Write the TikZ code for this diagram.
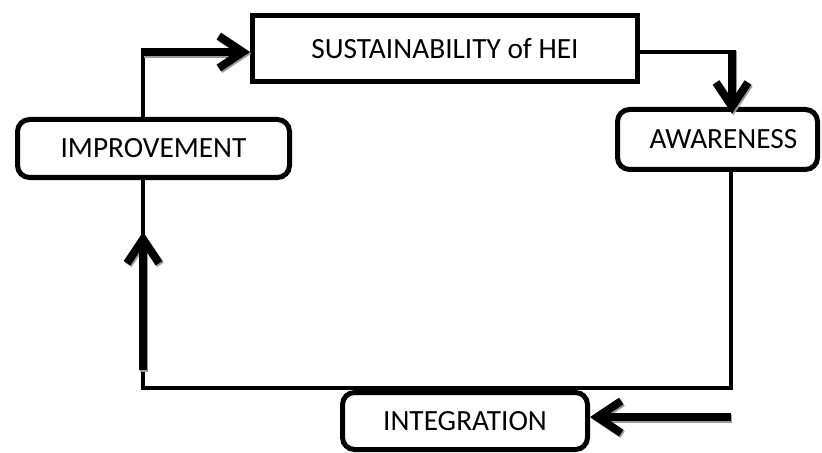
\documentclass[tikz,border=0pt]{standalone}
\usepackage{fontspec}
\setmainfont{Carlito}
\usetikzlibrary{arrows.meta}
\begin{document}
\begin{tikzpicture}[x=0.75pt,y=-0.75pt,
  box/.style={draw=black,line width=3.75pt,fill=white,inner sep=0pt,font=\fontsize{22}{25}\selectfont},
  rbox/.style={box,rounded corners=9pt},
  thinline/.style={draw=black,line width=3.2pt},
  thickarrow/.style={draw=black,line width=6pt,-{Straight Barb[length=18pt,width=24pt]}},
  shadowarrow/.style={draw=black!40,line width=6pt,-{Straight Barb[length=18pt,width=24pt]}}
]
\useasboundingbox (0,0) rectangle (822,453);
% nodes
\node[box,minimum width=288.75pt,minimum height=49.5pt] (sus) at (445,48.5) {SUSTAINABILITY of HEI};
\node[rbox,minimum width=150pt,minimum height=45pt] (aw) at (717.5,139.5) {\hspace*{9pt}AWARENESS};
\node[rbox,minimum width=204pt,minimum height=43.5pt] (imp) at (153.5,148.5) {IMPROVEMENT};
\node[rbox,minimum width=183.75pt,minimum height=42.75pt] (int) at (465,421) {INTEGRATION};
% coordinates
\coordinate (c1) at (143,52);
\coordinate (c2) at (732,52);
\coordinate (c3) at (731,388);
\coordinate (c4) at (143,388);
\coordinate (c5) at (143,370);
\coordinate (c6) at (143,232);
\coordinate (c7) at (731,417);
% connector IMPROVEMENT -> SUSTAINABILITY
\draw[thinline] (imp.north -| c1) -- (c1);
\draw[shadowarrow,transform canvas={shift={(1pt,-1.2pt)}}] (c1) -- (sus.west |- c1);
\draw[thickarrow,line cap=butt] ([xshift=-1.6pt]c1) -- (sus.west |- c1);
% connector SUSTAINABILITY -> AWARENESS
\draw[thinline] (sus.east |- c2) -- (c2);
\draw[shadowarrow,transform canvas={shift={(1pt,-1.2pt)}},shorten >=-5pt] ([yshift=1.6pt]c2) -- (c2 |- aw.north);
\draw[thickarrow,shorten >=-5pt] ([yshift=1.6pt]c2) -- (c2 |- aw.north);
% connector AWARENESS -> IMPROVEMENT (loop)
\draw[thinline,line join=miter] (aw.south -| c3) -- (c3) -- (c4) -- (imp.south -| c4);
\draw[shadowarrow,transform canvas={shift={(1pt,-1.2pt)}}] (c5) -- (c6);
\draw[thickarrow,line cap=butt] (c5) -- (c6);
% connector into INTEGRATION
\draw[shadowarrow,transform canvas={shift={(1pt,-1.2pt)}}] (c7) -- (int.east |- c7);
\draw[thickarrow,line cap=butt] (c7) -- (int.east |- c7);
\end{tikzpicture}
\end{document}
